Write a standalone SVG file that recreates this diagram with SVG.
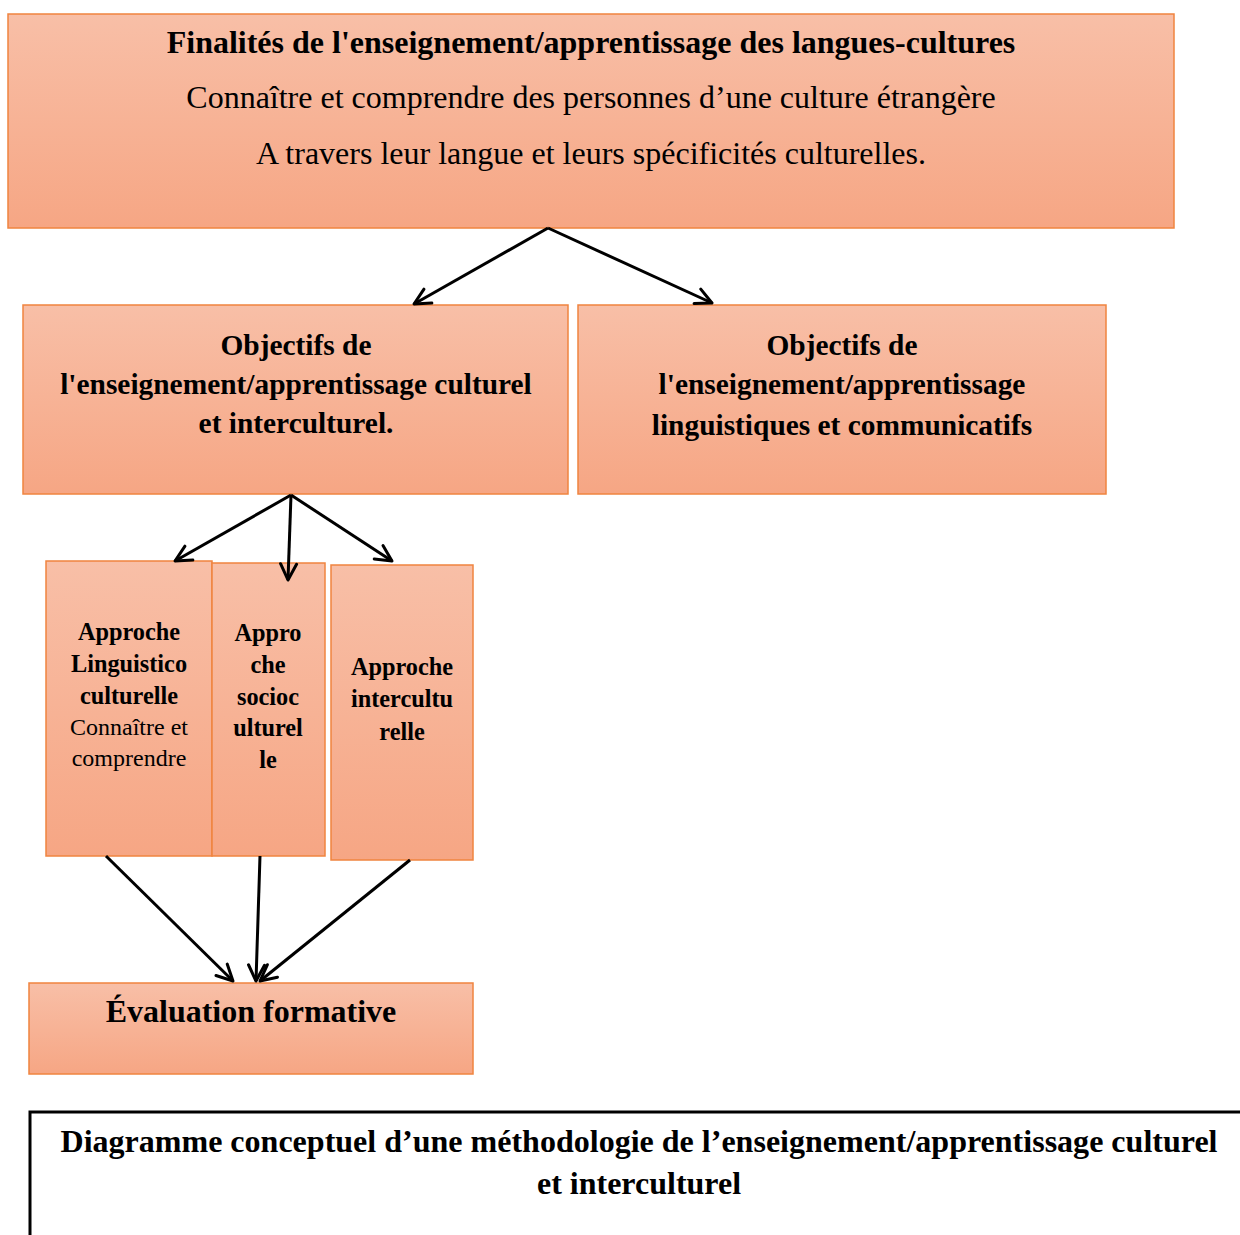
<svg xmlns="http://www.w3.org/2000/svg" width="1240" height="1235" viewBox="0 0 1240 1235">
<style>
.box{fill:url(#g);stroke:#F0843F;stroke-width:1.5}
.b{font-family:"Liberation Serif","Times New Roman",serif;font-weight:bold;fill:#000;text-anchor:middle}
.r{font-family:"Liberation Serif","Times New Roman",serif;fill:#000;text-anchor:middle}
.c{stroke:#000;stroke-width:3;fill:none}
</style>
<defs>
<linearGradient id="g" x1="0" y1="0" x2="0" y2="1">
<stop offset="0" stop-color="#F8BFA7"/>
<stop offset="1" stop-color="#F6A684"/>
</linearGradient>
<marker id="a" viewBox="0 0 20 20" refX="18" refY="10" markerWidth="20" markerHeight="20" markerUnits="userSpaceOnUse" orient="auto">
<path d="M2,2 L18,10 L2,18" fill="none" stroke="#000" stroke-width="3" stroke-linecap="round" stroke-linejoin="round"/>
</marker>
</defs>
<rect width="1240" height="1235" fill="#fff"/>
<g id="finalites">
<rect class="box" x="8" y="14" width="1166" height="214"/>
<text class="b" x="591" y="53" font-size="32">Finalités de l'enseignement/apprentissage des langues-cultures</text>
<text class="r" x="591" y="108" font-size="32">Connaître et comprendre des personnes d’une culture étrangère</text>
<text class="r" x="591" y="164" font-size="32">A travers leur langue et leurs spécificités culturelles.</text>
</g>
<g id="obj-culturel">
<rect class="box" x="23" y="305" width="545" height="189"/>
<text class="b" x="296" y="355" font-size="29.4">Objectifs de</text>
<text class="b" x="296" y="394" font-size="29.4">l'enseignement/apprentissage culturel</text>
<text class="b" x="296" y="433" font-size="29.4">et interculturel.</text>
</g>
<g id="obj-linguistique">
<rect class="box" x="578" y="305" width="528" height="189"/>
<text class="b" x="842" y="355" font-size="29.4">Objectifs de</text>
<text class="b" x="842" y="394" font-size="29.4">l'enseignement/apprentissage</text>
<text class="b" x="842" y="435" font-size="29.4">linguistiques et communicatifs</text>
</g>
<g id="approche-linguistico">
<rect class="box" x="46" y="561" width="166" height="295"/>
<text class="b" x="129" y="640" font-size="24.3">Approche</text>
<text class="b" x="129" y="672" font-size="24.3">Linguistico</text>
<text class="b" x="129" y="704" font-size="24.3">culturelle</text>
<text class="r" x="129" y="735" font-size="24">Connaître et</text>
<text class="r" x="129" y="766" font-size="24">comprendre</text>
</g>
<g id="approche-socio">
<rect class="box" x="212" y="563" width="113" height="293"/>
<text class="b" x="268" y="641" font-size="24.3">Appro</text>
<text class="b" x="268" y="673" font-size="24.3">che</text>
<text class="b" x="268" y="705" font-size="24.3">socioc</text>
<text class="b" x="268" y="736" font-size="24.3">ulturel</text>
<text class="b" x="268" y="768" font-size="24.3">le</text>
</g>
<g id="approche-inter">
<rect class="box" x="331" y="565" width="142" height="295"/>
<text class="b" x="402" y="675" font-size="24.3">Approche</text>
<text class="b" x="402" y="707" font-size="24.3">intercultu</text>
<text class="b" x="402" y="740" font-size="24.3">relle</text>
</g>
<g id="evaluation">
<rect class="box" x="29" y="983" width="444" height="91"/>
<text class="b" x="251" y="1022" font-size="32">Évaluation formative</text>
</g>
<g id="caption">
<path d="M30,1235 L30,1112 L1242,1112" fill="none" stroke="#000" stroke-width="3"/>
<text class="b" x="639" y="1152" font-size="32" textLength="1157" lengthAdjust="spacingAndGlyphs">Diagramme conceptuel d’une méthodologie de l’enseignement/apprentissage culturel</text>
<text class="b" x="639" y="1194" font-size="32">et interculturel</text>
</g>
<g id="connectors">
<line class="c" x1="548" y1="228" x2="414" y2="304" marker-end="url(#a)"/>
<line class="c" x1="548" y1="228" x2="712" y2="303" marker-end="url(#a)"/>
<line class="c" x1="291" y1="495" x2="175" y2="561" stroke-width="2" marker-end="url(#a)"/>
<line class="c" x1="291" y1="495" x2="288" y2="580" stroke-width="2" marker-end="url(#a)"/>
<line class="c" x1="291" y1="495" x2="392" y2="561" marker-end="url(#a)"/>
<line class="c" x1="106" y1="856" x2="233" y2="981" marker-end="url(#a)"/>
<line class="c" x1="260" y1="856" x2="256" y2="981" marker-end="url(#a)"/>
<line class="c" x1="410" y1="860" x2="260" y2="981" marker-end="url(#a)"/>
</g>
</svg>
